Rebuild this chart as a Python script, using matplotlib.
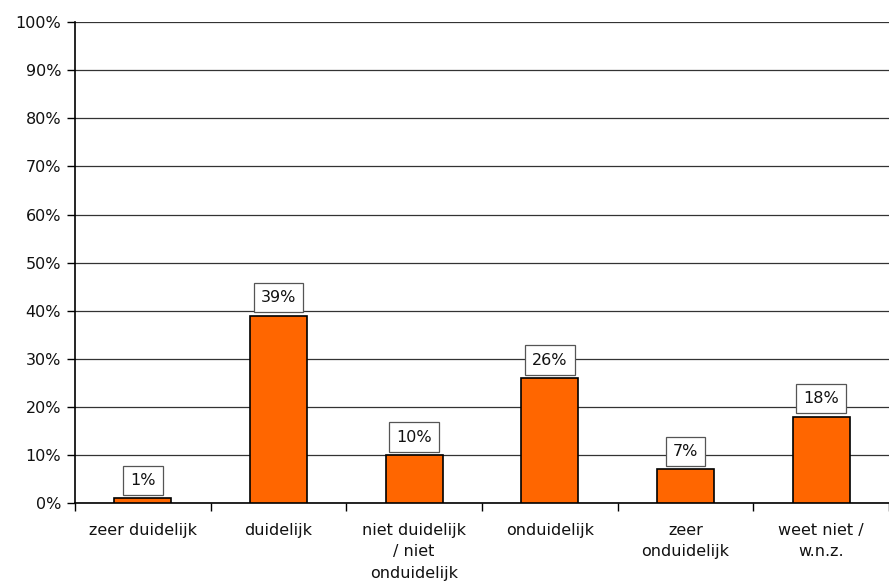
import matplotlib
matplotlib.use("Agg")
import matplotlib.pyplot as plt
import numpy as np

categories = ["zeer duidelijk", "duidelijk", "niet duidelijk\n/ niet\nonduidelijk",
              "onduidelijk", "zeer\nonduidelijk", "weet niet /\nw.n.z."]
values = [1, 39, 10, 26, 7, 18]

plt.rcParams["font.family"] = ["DejaVu Sans"]
fs = 11.5

fig = plt.figure(figsize=(8.89, 5.83), dpi=100)
ax = fig.add_axes([0.0844, 0.137, 0.9156, 0.825])

x = np.arange(len(categories))
ax.bar(x, values, width=0.42, color="#FF6600", edgecolor="black", linewidth=1.2, zorder=3)

for xi, v in zip(x, values):
    ax.annotate(f"{v}%", (xi, v), xytext=(0, 7.5), textcoords="offset points",
                ha="center", va="bottom", fontsize=fs, color="#111111",
                bbox=dict(boxstyle="square,pad=0.45", fc="white", ec="#555555", lw=0.9),
                zorder=4)

ax.set_xlim(-0.5, len(categories) - 0.5)
ax.set_ylim(0, 100)
ax.set_yticks(np.arange(0, 101, 10))
ax.set_yticklabels([f"{t}%" for t in range(0, 101, 10)], fontsize=fs, color="#111111")
ax.yaxis.grid(True, color="#333333", linewidth=0.9, zorder=0)

ax.set_xticks(np.arange(-0.5, len(categories), 1.0))
ax.set_xticklabels([])
ax.set_xticks(x, minor=True)
ax.set_xticklabels(categories, minor=True, fontsize=fs, color="#111111", linespacing=1.55)
ax.tick_params(axis="x", which="minor", length=0, pad=14)
ax.tick_params(axis="x", which="major", length=6, width=1, direction="out")
ax.tick_params(axis="y", length=6, width=1, direction="out", pad=4)

for s in ["top", "right"]:
    ax.spines[s].set_visible(False)
for s in ["left", "bottom"]:
    ax.spines[s].set_linewidth(1.2)
    ax.spines[s].set_color("black")

fig.savefig("out.png", dpi=100)
